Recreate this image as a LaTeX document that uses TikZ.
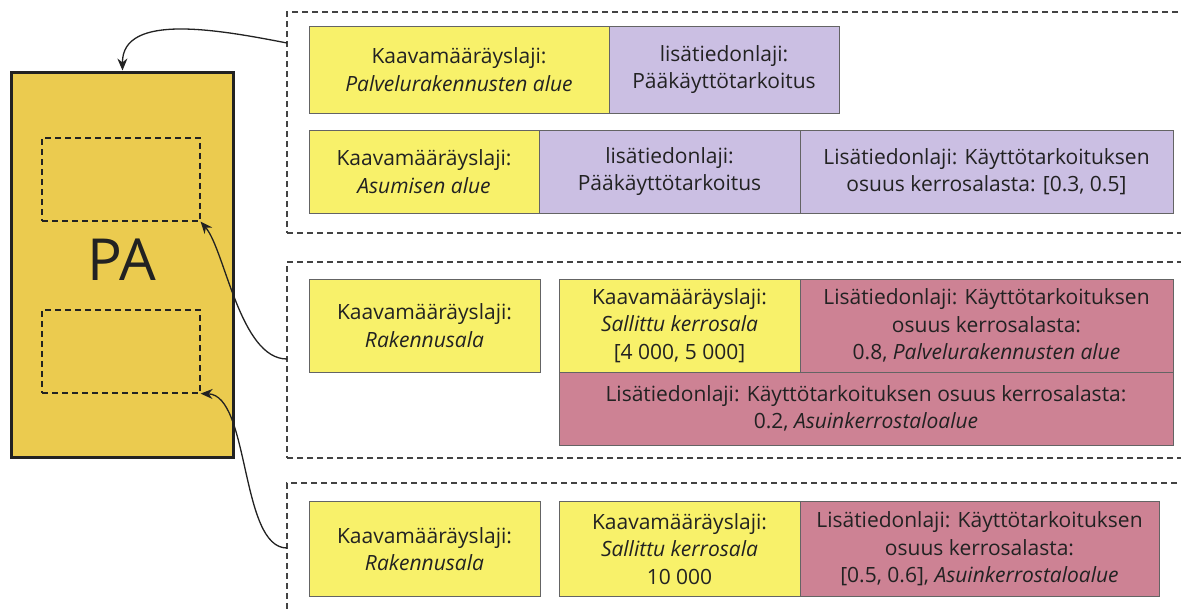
\documentclass[tikz,border=0pt]{standalone}
\usepackage{fontspec}
\setmainfont{Open Sans}
\usetikzlibrary{arrows.meta}
\definecolor{yel}{RGB}{248,241,106}
\definecolor{lil}{RGB}{203,191,227}
\definecolor{ros}{RGB}{205,130,148}
\definecolor{gold}{RGB}{235,203,79}
\definecolor{ink}{RGB}{34,34,34}
\definecolor{edge}{RGB}{100,100,100}

\begin{document}
\begin{tikzpicture}[x=1pt,y=-1pt,
  cell/.style={draw=edge, line width=0.9pt, inner sep=0pt, align=center, text=ink,
    font=\fontsize{21}{27.5}\selectfont},
  group/.style={draw=ink!85, dash pattern=on 6pt off 4pt, line width=1.1pt, inner sep=0pt},
  hole/.style={draw=ink, dash pattern=on 6pt off 4pt, line width=1.2pt, inner sep=0pt,
    minimum width=158pt, minimum height=83pt},
  link/.style={draw=ink, line width=1.3pt, -{Stealth[length=12pt,width=10pt]}},
]
\clip (0,0) rectangle (1181,611);

% plan area with its two sub-areas
\node[draw=ink, fill=gold, line width=3pt, minimum width=222pt, minimum height=385pt, inner sep=0pt]
  (pa) at (122.5,264.5) {};
\node[text=ink, font=\fontsize{58}{60}\selectfont] (palabel) at (122,260) {PA};
\node[hole] (in1) at (121,179.5) {};
\node[hole] (in2) at (121,351.5) {};

% dashed groups of regulations
\node[group, minimum width=930pt, minimum height=221pt] (g1) at (752,122.5) {};
\node[group, minimum width=930pt, minimum height=196pt] (g2) at (752,360) {};
\node[group, minimum width=930pt, minimum height=160pt] (g3) at (752,563) {};

% group 1
\node[cell, fill=yel, minimum width=300pt, minimum height=87pt] (a1) at (459,69.5)
  {Kaavamääräyslaji:\\\textit{Palvelurakennusten alue}};
\node[cell, fill=lil, minimum width=230pt, minimum height=87pt] (a2) at (724,69.5)
  {lisätiedonlaji:\\Pääkäyttötarkoitus};
\node[cell, fill=yel, minimum width=230pt, minimum height=83pt] (b1) at (424,171.5)
  {Kaavamääräyslaji:\\\textit{Asumisen alue}};
\node[cell, fill=lil, minimum width=261pt, minimum height=83pt] (b2) at (669.5,171.5)
  {lisätiedonlaji:\\Pääkäyttötarkoitus};
\node[cell, fill=lil, minimum width=373pt, minimum height=83pt] (b3) at (986.5,171.5)
  {Lisätiedonlaji: Käyttötarkoituksen\\osuus kerrosalasta: [0.3, 0.5]};

% group 2
\node[cell, fill=yel, minimum width=231pt, minimum height=93pt] (c1) at (424.5,325.5)
  {Kaavamääräyslaji:\\\textit{Rakennusala}};
\node[cell, fill=yel, minimum width=241pt, minimum height=93pt] (c2) at (679.5,325.5)
  {Kaavamääräyslaji:\\\textit{Sallittu kerrosala}\\{}[4 000, 5 000]};
\node[cell, fill=ros, minimum width=373pt, minimum height=93pt] (c3) at (986.5,325.5)
  {Lisätiedonlaji: Käyttötarkoituksen\\osuus kerrosalasta:\\0.8, \textit{Palvelurakennusten alue}};
\node[cell, fill=ros, minimum width=614pt, minimum height=73pt] (c4) at (866,408.5)
  {Lisätiedonlaji: Käyttötarkoituksen osuus kerrosalasta:\\0.2, \textit{Asuinkerrostaloalue}};

% group 3
\node[cell, fill=yel, minimum width=231pt, minimum height=95pt] (d1) at (424.5,549)
  {Kaavamääräyslaji:\\\textit{Rakennusala}};
\node[cell, fill=yel, minimum width=241pt, minimum height=95pt] (d2) at (679.5,549)
  {Kaavamääräyslaji:\\\textit{Sallittu kerrosala}\\10 000};
\node[cell, fill=ros, minimum width=359pt, minimum height=95pt] (d3) at (979.5,549)
  {Lisätiedonlaji: Käyttötarkoituksen\\osuus kerrosalasta:\\{}[0.5, 0.6], \textit{Asuinkerrostaloalue}};

% connectors from the groups to the areas they describe
\coordinate (s1) at (287,43);
\coordinate (s2) at (287,359);
\coordinate (s3) at (287,548);
\draw[link] (s1) .. controls (220,30) and (122,12) .. (pa.north);
\draw[link] (s2) .. controls (240,359) and (225,250) .. (in1.south east);
\draw[link] (s3) .. controls (240,548) and (250,395) .. (in2.south east);
\end{tikzpicture}
\end{document}
